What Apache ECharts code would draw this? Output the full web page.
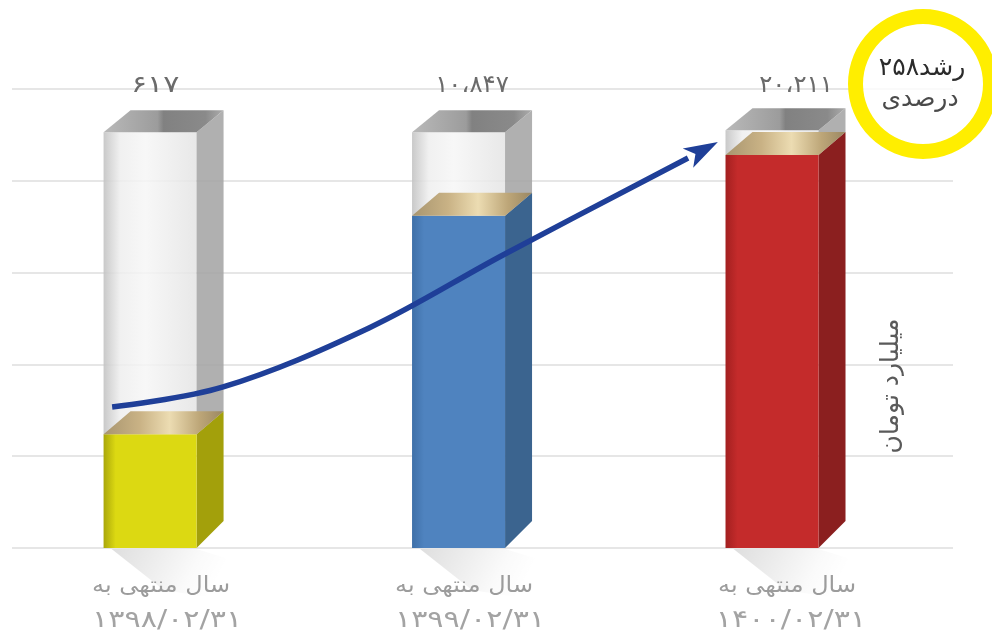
<!DOCTYPE html>
<html><head><meta charset="utf-8">
<style>html,body{margin:0;padding:0;background:#fff}#c{width:992px;height:636px}</style>
<script src="https://cdn.jsdelivr.net/npm/echarts@6/dist/echarts.min.js"></script>
</head><body><div id="c"></div>
<script>
// Data
const years = [1398, 1399, 1400];
const valueLabels = ['۶۱۷', '۱۰،۸۴۷', '۲۰،۲۱۱'];
const periodLabels = ['سال منتهی به', 'سال منتهی به', 'سال منتهی به'];
const dateLabels = ['۱۳۹۸/۰۲/۳۱', '۱۳۹۹/۰۲/۳۱', '۱۴۰۰/۰۲/۳۱'];
// The bars in the picture are not drawn to the scale of their labels: these are their heights, in gridline steps
const barLevels = [1.24, 3.62, 4.28];
const glassLevels = [4.53, 4.53, 4.55];
const gridLevels = [0, 5];
// Trend arrow, in the same year / level units
const trendYears = [1397.878, 1398.235, 1398.704, 1399.135, 1399.73];
const trendLevels = [1.536, 1.754, 2.397, 3.192, 4.248];
const arrowTip = [1399.826, 4.423];
const growthLine1 = 'رشد۲۵۸';
const growthLine2 = 'درصدی';
const axisTitle = 'میلیارد تومان';

const palettes = [
  {edge:'#aaa70a', front:'#dcd912', side:'#a3a00b'},
  {edge:'#3f70a8', front:'#4f83bf', side:'#3b648f'},
  {edge:'#a32020', front:'#c42b2b', side:'#8b1f1f'}
];
const lin = (x0,y0,x1,y1,stops)=>new echarts.graphic.LinearGradient(x0,y0,x1,y1,stops.map(([offset,color])=>({offset,color})));
const goldFill = ()=>lin(0,0,1,0,[[0,'#a8956f'],[0.3,'#c9b285'],[0.55,'#ecdcb2'],[0.8,'#bda678'],[1,'#9a8762']]);
// Layout of the picture's uneven placement and stretched lettering
const barShift = [0,-2.5,0];
const valueShift = [5,11,24];
const valueStretch = [1.25,1.02,1.02];
const periodShift = [11,3,15];
const dateShift = [17,9,19];

function poly(points, fill, z2){
  return {type:'polygon', z2:z2||0, shape:{points}, style:{fill}, silent:true};
}
const text = (x,y,t,font,fill,sx)=>({type:'text',z2:5,silent:true,x,y,scaleX:sx||1,
  style:{x:0,y:0,text:t,font,fill,align:'center',verticalAlign:'middle'}});
function renderBar(params, api){
  const i = params.dataIndex;
  const p0 = api.coord([api.value(0), 0]);
  const cx = p0[0] + barShift[i], y0 = p0[1];
  const yBar = api.coord([api.value(0), api.value(1)])[1];
  const yGlass = api.coord([api.value(0), api.value(2)])[1];
  const hw = 46.5, dx = 27, dyG = 22, dyT = 23, dyB = 27;
  const L = cx-hw, R = cx+hw;
  const c = palettes[i];
  const children = [];
  // floor shadow
  children.push(poly([[L+8,y0+1],[R,y0+1],[R+75,y0+24],[R+30,y0+52],[L+60,y0+42]],
    lin(0,0,0.6,1,[[0,'rgba(0,0,0,0.13)'],[0.75,'rgba(0,0,0,0.02)'],[1,'rgba(0,0,0,0)']])));
  // glass tube
  children.push(poly([[L,yGlass],[R,yGlass],[R,yBar],[L,yBar]],
    lin(0,0,1,0,[[0,'rgba(195,195,195,0.9)'],[0.18,'rgba(238,238,238,0.85)'],[0.45,'rgba(246,246,246,0.85)'],[1,'rgba(228,228,228,0.85)']])));
  children.push(poly([[R,yGlass],[R+dx,yGlass-dyG],[R+dx,yBar-dyT],[R,yBar]],'rgba(165,165,165,0.88)'));
  children.push(poly([[L,yGlass],[R,yGlass],[R+dx,yGlass-dyG],[L+dx,yGlass-dyG]],
    lin(0,0,1,0,[[0,'#b9b9b9'],[0.45,'#9c9c9c'],[0.5,'#818181'],[0.85,'#8a8a8a'],[1,'#adadad']])));
  // coloured volume
  children.push(poly([[R,yBar],[R+dx,yBar-dyT],[R+dx,y0-dyB],[R,y0]],c.side));
  children.push(poly([[L,yBar],[R,yBar],[R,y0],[L,y0]],
    lin(0,0,1,0,[[0,c.edge],[0.13,c.front],[1,c.front]])));
  children.push(poly([[L,yBar],[R,yBar],[R+dx,yBar-dyT],[L+dx,yBar-dyT]],goldFill()));
  // texts
  children.push(text(p0[0]+valueShift[i],86,valueLabels[i],'24px "DejaVu Sans"','#6b6b6b',valueStretch[i]));
  children.push(text(p0[0]+periodShift[i],586,periodLabels[i],'22px "DejaVu Sans"','#9c9c9c',1.09));
  children.push(text(p0[0]+dateShift[i],621,dateLabels[i],'24px "DejaVu Sans"','#a3a3a3',1.26));
  return {type:'group',children};
}
function renderArrow(params, api){
  const tip = api.coord([api.value(0), api.value(1)]);
  const from = api.coord([trendYears[trendYears.length-1], trendLevels[trendLevels.length-1]]);
  const a = Math.atan2(tip[1]-from[1], tip[0]-from[0]);
  const len = 34, hw = 11, nx = -Math.sin(a), ny = Math.cos(a), ux = Math.cos(a), uy = Math.sin(a);
  const bx = tip[0]-ux*len, by = tip[1]-uy*len;
  return poly([tip,[bx+nx*hw,by+ny*hw],[tip[0]-ux*len*0.75,tip[1]-uy*len*0.75],[bx-nx*hw,by-ny*hw]],'#1f3f98');
}

const chart = echarts.init(document.getElementById('c'), null, {renderer:'canvas'});
chart.setOption({
  animation:false,
  backgroundColor:'#fff',
  grid:{left:12,right:39,top:89,height:459},
  xAxis:{type:'value',show:false,min:1397.556,max:1400.582},
  yAxis:{type:'value',min:gridLevels[0],max:gridLevels[1],interval:1,
    axisLine:{show:false},axisTick:{show:false},axisLabel:{show:false},
    splitLine:{show:true,lineStyle:{color:'#e6e6e6',width:2}}},
  series:[
    {type:'custom',z:3,renderItem:renderBar,clip:false,
     encode:{x:0,y:1},
     data:years.map((y,i)=>[y,barLevels[i],glassLevels[i]])},
    {type:'line',z:4,smooth:0.35,showSymbol:false,symbol:'none',
     lineStyle:{color:'#1f3f98',width:5.5,cap:'butt'},
     data:trendYears.map((y,i)=>[y,trendLevels[i]])},
    {type:'custom',z:5,renderItem:renderArrow,clip:false,encode:{x:0,y:1},data:[arrowTip]}
  ],
  graphic:[
    {type:'ring',z:10,shape:{cx:923,cy:84,r:75,r0:60},style:{fill:'#ffee00'},silent:true},
    {type:'circle',z:9,shape:{cx:923,cy:84,r:60},style:{fill:'rgba(255,255,255,0.8)'},silent:true},
    {type:'text',z:11,x:922,y:68,style:{text:growthLine1,font:'25px "DejaVu Sans"',fill:'#2b2b2b',align:'center',verticalAlign:'middle'}},
    {type:'text',z:11,x:920,y:99,style:{text:growthLine2,font:'25px "DejaVu Sans"',fill:'#4a4a4a',align:'center',verticalAlign:'middle'}},
    {type:'text',z:11,x:891,y:386,rotation:Math.PI/2,style:{text:axisTitle,font:'25px "DejaVu Sans"',fill:'#5a5a5a',align:'center',verticalAlign:'middle'}}
  ]
});
</script></body></html>
